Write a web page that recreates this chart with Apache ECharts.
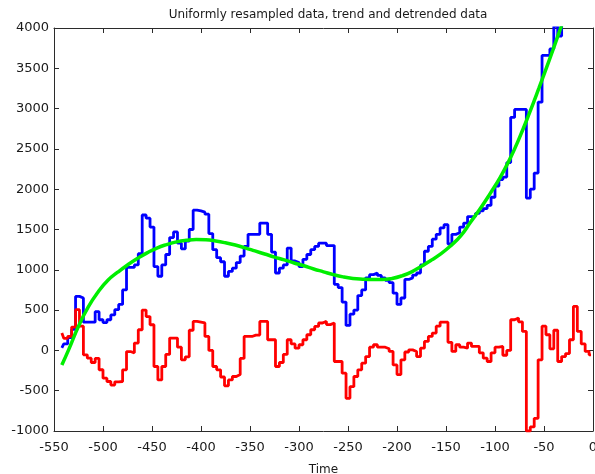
<!DOCTYPE html>
<html>
<head>
<meta charset="utf-8">
<script src="https://cdn.jsdelivr.net/npm/echarts@6/dist/echarts.min.js"></script>
<style>
  html, body { margin: 0; padding: 0; background: #ffffff; }
  #chart { width: 595px; height: 474px; }
</style>
</head>
<body>
<div id="chart"></div>
<script>
// Uniform resampling grid: first sample time and spacing
const sampleStart = -542;
const sampleStep = 4;

// Resampled series (one value per grid time)
const resampled = [
  30, 80, 160, 260, 670, 650, 350, 350, 350, 480,
  380, 345, 380, 440, 505, 570, 750, 1030, 1030, 1060,
  1200, 1680, 1640, 1530, 1040, 920, 1060, 1190, 1400, 1470,
  1330, 1260, 1355, 1500, 1740, 1730, 1715, 1690, 1450, 1250,
  1150, 1100, 920, 980, 1020, 1090, 1170, 1290, 1440, 1440,
  1440, 1580, 1580, 1440, 1220, 960, 1020, 1060, 1270, 1110,
  1090, 1040, 1130, 1190, 1250, 1290, 1330, 1330, 1300, 1300,
  820, 780, 600, 310, 450, 500, 680, 750, 900, 940,
  960, 930, 900, 870, 840, 710, 570, 650, 880, 900,
  935, 960, 1060, 1230, 1290, 1380, 1440, 1520, 1560, 1320,
  1440, 1460, 1530, 1580, 1660, 1660, 1700, 1730, 1760, 1800,
  1900, 2040, 2120, 2150, 2330, 2890, 2990, 2990, 2990, 1890,
  2000, 2200, 3080, 3660, 3660, 3740, 4020, 3900, 4100, 4300,
  4600, 4900, 5200, 5500, 5800, 6100
];

// Detrended series (same grid)
const detrended = [
  215, 150, 175, 290, 505, 300, -55, -96, -150, -100,
  -240, -344, -386, -430, -390, -386, -241, -14, -30, 91,
  256, 500, 420, 318, -200, -366, -200, -50, 153, 153,
  40, -117, -80, 250, 360, 350, 340, 173, 0, -200,
  -241, -330, -440, -366, -324, -300, -100, 173, 173, 190,
  190, 360, 360, 132, 132, -200, -150, -50, 132, 80,
  28, 70, 132, 194, 256, 297, 340, 360, 320, 340,
  -138, -138, -282, -594, -450, -324, -241, -158, -76, 40,
  70, 40, 40, 20, -13, -180, -300, -117, -20, 7,
  -13, -76, 28, 111, 173, 215, 300, 350, 350, 100,
  -13, 70, 40, 28, 91, 49, 49, -30, -96, -138,
  -30, 40, 49, -60, 0, 380, 401, 355, 235, -1000,
  -950, -843, -117, 300, 194, 20, 250, -138, -76, -40,
  132, 546, 235, 80, -13, -55
];

// Smooth trend curve
const trendTime = [
  -542, -535, -525, -515, -505, -495, -485, -475, -465, -455,
  -445, -435, -425, -415, -405, -395, -385, -375, -365, -355,
  -345, -335, -325, -315, -305, -295, -285, -275, -265, -255,
  -245, -235, -225, -215, -205, -195, -185, -175, -165, -155,
  -145, -135, -125, -115, -105, -95, -85, -75, -65, -55,
  -45, -35, -25
];
const trendValue = [
  -180, 10, 300, 540, 725, 870, 970, 1060, 1140, 1210,
  1270, 1313, 1346, 1366, 1376, 1372, 1357, 1335, 1307, 1272,
  1234, 1196, 1158, 1123, 1085, 1050, 1010, 975, 940, 912,
  893, 884, 880, 880, 893, 925, 975, 1045, 1120, 1200,
  1300, 1420, 1590, 1760, 1945, 2140, 2370, 2640, 2940, 3260,
  3590, 3930, 4280
];

// Axis tick values
const xTicks = [-550, -500, -450, -400, -350, -300, -250, -200, -150, -100, -50, 0];
const yTicks = [-1000, -500, 0, 500, 1000, 1500, 2000, 2500, 3000, 3500, 4000];

const sampleTimes = resampled.map((_, i) => sampleStart + i * sampleStep);
const pairs = (xs, ys) => ys.map((y, i) => [xs[i], y]);

const FONT = 'DejaVu Sans';
const AXIS_COLOR = '#2b2b2b';
const TEXT_COLOR = '#1a1a1a';
const plain = (v) => String(v);

const chart = echarts.init(document.getElementById('chart'), null, { renderer: 'canvas' });

const baseAxis = {
  axisLine: { show: true, onZero: false, lineStyle: { color: AXIS_COLOR, width: 1 } },
  axisTick: { show: true, inside: true, length: 5, lineStyle: { color: AXIS_COLOR } },
  splitLine: { show: false }
};

chart.setOption({
  animation: false,
  backgroundColor: '#ffffff',
  title: {
    text: 'Uniformly resampled data, trend and detrended data',
    left: 323,
    top: 4,
    textAlign: 'center',
    textStyle: { fontFamily: FONT, fontSize: 12, fontWeight: 'normal', color: TEXT_COLOR }
  },
  grid: { left: 54, right: 2, top: 28, bottom: 43, containLabel: false, outerBoundsMode: 'none' },
  xAxis: [
    Object.assign({}, baseAxis, {
      type: 'value', position: 'bottom',
      min: xTicks[0], max: xTicks[xTicks.length - 1], interval: 50,
      name: 'Time', nameLocation: 'middle', nameGap: 33,
      nameTextStyle: { fontFamily: FONT, fontSize: 12, color: TEXT_COLOR },
      axisLabel: { fontFamily: FONT, fontSize: 13, color: TEXT_COLOR, margin: 10, formatter: plain }
    }),
    Object.assign({}, baseAxis, {
      type: 'value', position: 'top',
      min: xTicks[0], max: xTicks[xTicks.length - 1], interval: 50,
      axisLabel: { show: false }
    })
  ],
  yAxis: [
    Object.assign({}, baseAxis, {
      type: 'value', position: 'left',
      min: yTicks[0], max: yTicks[yTicks.length - 1], interval: 500,
      axisLabel: { fontFamily: FONT, fontSize: 13, color: TEXT_COLOR, margin: 5, formatter: plain }
    }),
    Object.assign({}, baseAxis, {
      type: 'value', position: 'right',
      min: yTicks[0], max: yTicks[yTicks.length - 1], interval: 500,
      axisLabel: { show: false }
    })
  ],
  series: [
    {
      name: 'Resampled', type: 'line', step: 'middle', symbol: 'none', clip: true,
      data: pairs(sampleTimes, resampled),
      lineStyle: { color: '#0000ff', width: 2.8 }, z: 2
    },
    {
      name: 'Detrended', type: 'line', step: 'middle', symbol: 'none', clip: true,
      data: pairs(sampleTimes, detrended),
      lineStyle: { color: '#ff0000', width: 2.8 }, z: 3
    },
    {
      name: 'Trend', type: 'line', smooth: true, symbol: 'none', clip: true,
      data: pairs(trendTime, trendValue),
      lineStyle: { color: '#00ee00', width: 3.5 }, z: 4
    }
  ]
});
</script>
</body>
</html>
